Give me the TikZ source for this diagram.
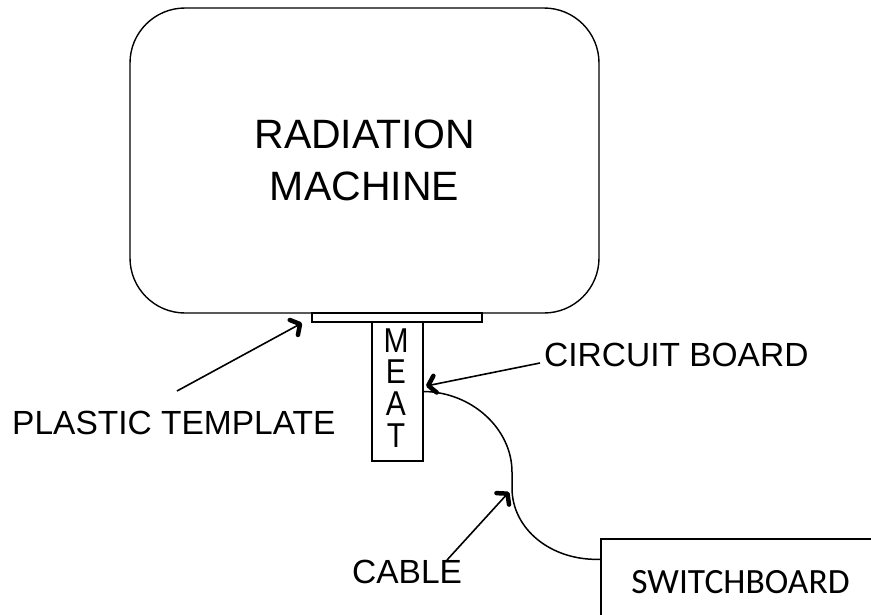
\documentclass[tikz,border=0pt]{standalone}
\usepackage{fontspec}
\setmainfont{Liberation Sans}
\newfontfamily\calib{Carlito}
\usetikzlibrary{arrows.meta}
\begin{document}
\begin{tikzpicture}[x=1pt,y=-1pt,
  box/.style={draw=black,line width=1.4pt,inner sep=0pt},
  lbl/.style={inner sep=0pt,font=\fontsize{33.5}{40}\selectfont},
  arr/.style={line width=1.6pt,-{Straight Barb[length=7pt,width=17pt,line width=4.5pt,round]}},
  cable/.style={line width=1.5pt}]
\clip (0,0) rectangle (871,614);
\fill[white] (0,0) rectangle (871,614);
% machine
\node[box,rounded corners=55pt,minimum width=469pt,minimum height=305pt,align=center,
      font=\fontsize{41}{52}\selectfont] (machine) at (364.5,160.5) {RADIATION\\MACHINE};
% template
\node[box,minimum width=170pt,minimum height=9pt] (template) at (397,317.5) {};
% meat
\node[box,minimum width=51pt,minimum height=139pt] (meat) at (397.5,391.5) {};
\node[inner sep=0pt,font=\fontsize{30}{23.5}\selectfont] (meattext) at (396,392)
  {\scalebox{1}[1.15]{\begin{tabular}{@{}c@{}}M\\E\\A\\T\end{tabular}}};
% switchboard
\node[box,minimum width=279pt,minimum height=86pt,font=\calib\fontsize{35.5}{40}\selectfont] (sw) at (740.5,582) {SWITCHBOARD};
% labels
\node[lbl,anchor=base west] (plastic) at (12,434) {PLASTIC TEMPLATE};
\node[lbl,anchor=base west] (circuit) at (544,366) {CIRCUIT BOARD};
\node[lbl,anchor=base west] (cablelbl) at (352,583) {CABLE};
% arrow ends
\coordinate (pt) at (177,391);
\coordinate (ph) at (302,323);
\coordinate (ct) at (540,363);
\coordinate (ch) at (426,386);
\coordinate (kt) at (447,560);
\coordinate (kh) at (509,492);
% cable
\draw[cable] (meat.east) .. controls (472,392) and (512,429) .. (512,472)
  -- (512,488) .. controls (512,529) and (551,561) .. ([yshift=-21pt]sw.north west);
% arrows
\draw[arr] (pt) -- (ph);
\draw[arr] (ct) -- (ch);
\draw[arr] (kt) -- (kh);
\end{tikzpicture}
\end{document}
